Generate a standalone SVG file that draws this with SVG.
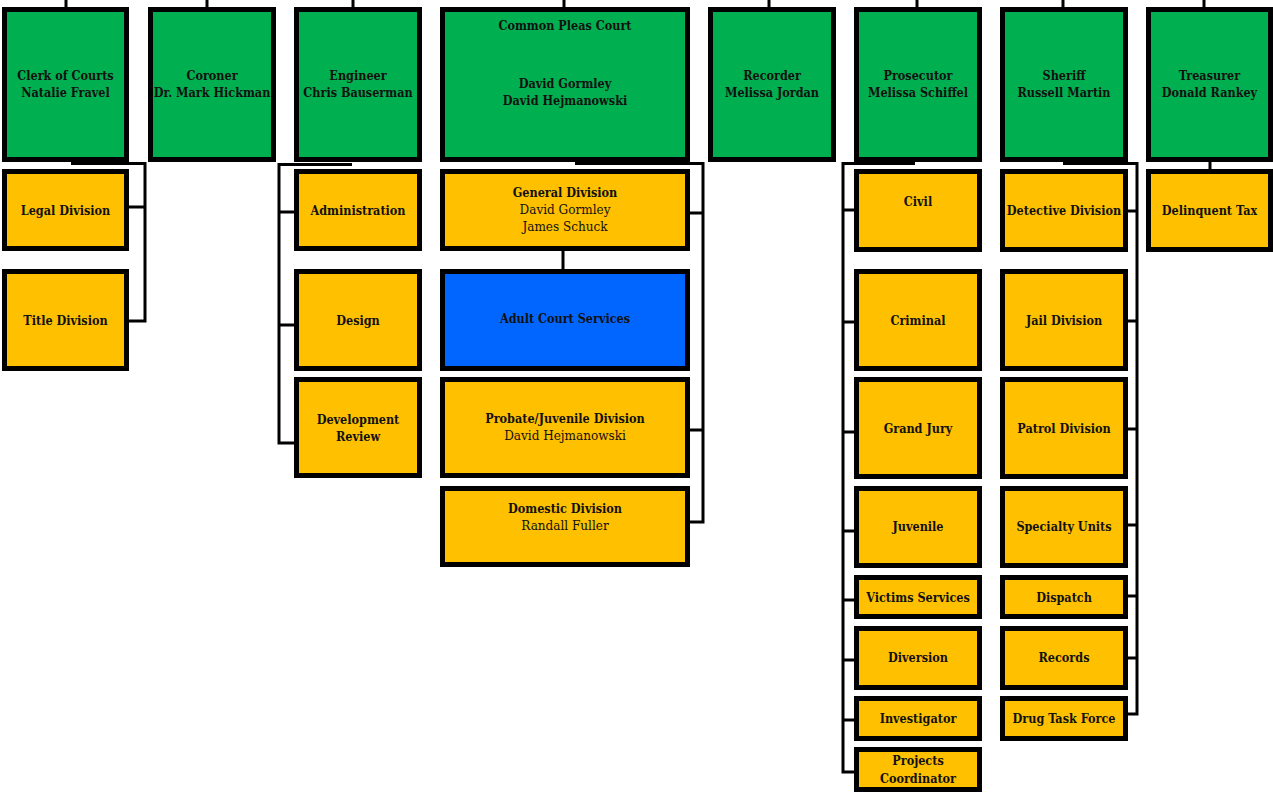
<svg xmlns="http://www.w3.org/2000/svg" width="1273" height="793" viewBox="0 0 1273 793">
<style>
.g{fill:#00AF50;stroke:#000;stroke-width:5}
.y{fill:#FFC000;stroke:#000;stroke-width:5}
.b{fill:#0066FF;stroke:#000;stroke-width:5}
text{font-family:"DejaVu Serif Condensed","DejaVu Serif",serif;font-stretch:condensed;font-size:12.5px;fill:#111;text-anchor:middle}
.t{font-weight:bold}
.n{font-weight:normal;font-size:13.4px}
.c{fill:none;stroke:#000;stroke-width:3}
</style>
<rect width="1273" height="793" fill="#fff"/>
<g id="connectors" class="c">
<path d="M66,0V8M207,0V8M353,0V8M564,0V8M769,0V8M917,0V8M1063,0V8M1204,0V8"/>
<path d="M71,163.5H145V321H129M129,207H145"/>
<path d="M352,164.5H279V443H294M279,212H294M279,325H294"/>
<path d="M575,163.5H703V522H690M690,213H703M690,430H703M563,251V269"/>
<path d="M915,163.5H843V772H854M843,210H854M843,322H854M843,432H854M843,531H854M843,600H854M843,660H854M843,720H854"/>
<path d="M1063,163.5H1137V714H1128M1128,211H1137M1128,321H1137M1128,429H1137M1128,525H1137M1128,596H1137M1128,658H1137"/>
<path d="M1210,162V169"/>
</g>
<g id="clerk"><rect class="g" x="4.5" y="9.5" width="122" height="150"/><text class="t" x="65.5" y="80">Clerk of Courts</text><text class="t" x="65.5" y="97">Natalie Fravel</text></g>
<g id="coroner"><rect class="g" x="150.5" y="9.5" width="123" height="150"/><text class="t" x="212" y="80">Coroner</text><text class="t" x="212" y="97">Dr. Mark Hickman</text></g>
<g id="engineer"><rect class="g" x="296.5" y="9.5" width="123" height="150"/><text class="t" x="358" y="80">Engineer</text><text class="t" x="358" y="97">Chris Bauserman</text></g>
<g id="common-pleas"><rect class="g" x="442.5" y="9.5" width="245" height="150"/><text class="t" x="565" y="30">Common Pleas Court</text><text class="t" x="565" y="88">David Gormley</text><text class="t" x="565" y="105">David Hejmanowski</text></g>
<g id="recorder"><rect class="g" x="710.5" y="9.5" width="123" height="150"/><text class="t" x="772" y="80">Recorder</text><text class="t" x="772" y="97">Melissa Jordan</text></g>
<g id="prosecutor"><rect class="g" x="856.5" y="9.5" width="123" height="150"/><text class="t" x="918" y="80">Prosecutor</text><text class="t" x="918" y="97">Melissa Schiffel</text></g>
<g id="sheriff"><rect class="g" x="1002.5" y="9.5" width="123" height="150"/><text class="t" x="1064" y="80">Sheriff</text><text class="t" x="1064" y="97">Russell Martin</text></g>
<g id="treasurer"><rect class="g" x="1148.5" y="9.5" width="122" height="150"/><text class="t" x="1209.5" y="80">Treasurer</text><text class="t" x="1209.5" y="97">Donald Rankey</text></g>

<g id="legal"><rect class="y" x="4.5" y="171.5" width="122" height="77"/><text class="t" x="65.5" y="215">Legal Division</text></g>
<g id="title"><rect class="y" x="4.5" y="271.5" width="122" height="97"/><text class="t" x="65.5" y="325">Title Division</text></g>

<g id="administration"><rect class="y" x="296.5" y="171.5" width="123" height="77"/><text class="t" x="358" y="215">Administration</text></g>
<g id="design"><rect class="y" x="296.5" y="271.5" width="123" height="97"/><text class="t" x="358" y="325">Design</text></g>
<g id="development-review"><rect class="y" x="296.5" y="379.5" width="123" height="96"/><text class="t" x="358" y="424">Development</text><text class="t" x="358" y="441">Review</text></g>

<g id="general"><rect class="y" x="442.5" y="171.5" width="245" height="77"/><text class="t" x="565" y="197">General Division</text><text class="n" x="565" y="214">David Gormley</text><text class="n" x="565" y="231">James Schuck</text></g>
<g id="adult-court"><rect class="b" x="442.5" y="271.5" width="245" height="97"/><text class="t" x="565" y="323">Adult Court Services</text></g>
<g id="probate"><rect class="y" x="442.5" y="379.5" width="245" height="96"/><text class="t" x="565" y="423">Probate/Juvenile Division</text><text class="n" x="565" y="440">David Hejmanowski</text></g>
<g id="domestic"><rect class="y" x="442.5" y="488.5" width="245" height="76"/><text class="t" x="565" y="513">Domestic Division</text><text class="n" x="565" y="530">Randall Fuller</text></g>

<g id="civil"><rect class="y" x="856.5" y="171.5" width="123" height="78"/><text class="t" x="918" y="206">Civil</text></g>
<g id="criminal"><rect class="y" x="856.5" y="271.5" width="123" height="97"/><text class="t" x="918" y="325">Criminal</text></g>
<g id="grand-jury"><rect class="y" x="856.5" y="379.5" width="123" height="97"/><text class="t" x="918" y="433">Grand Jury</text></g>
<g id="juvenile"><rect class="y" x="856.5" y="488.5" width="123" height="77"/><text class="t" x="918" y="531">Juvenile</text></g>
<g id="victims"><rect class="y" x="856.5" y="577.5" width="123" height="39"/><text class="t" x="918" y="602">Victims Services</text></g>
<g id="diversion"><rect class="y" x="856.5" y="628.5" width="123" height="59"/><text class="t" x="918" y="662">Diversion</text></g>
<g id="investigator"><rect class="y" x="856.5" y="698.5" width="123" height="40"/><text class="t" x="918" y="723">Investigator</text></g>
<g id="projects"><rect class="y" x="856.5" y="749.5" width="123" height="40"/><text class="t" x="918" y="765">Projects</text><text class="t" x="918" y="783">Coordinator</text></g>

<g id="detective"><rect class="y" x="1002.5" y="171.5" width="123" height="78"/><text class="t" x="1064" y="215">Detective Division</text></g>
<g id="jail"><rect class="y" x="1002.5" y="271.5" width="123" height="97"/><text class="t" x="1064" y="325">Jail Division</text></g>
<g id="patrol"><rect class="y" x="1002.5" y="379.5" width="123" height="97"/><text class="t" x="1064" y="433">Patrol Division</text></g>
<g id="specialty"><rect class="y" x="1002.5" y="488.5" width="123" height="77"/><text class="t" x="1064" y="531">Specialty Units</text></g>
<g id="dispatch"><rect class="y" x="1002.5" y="577.5" width="123" height="39"/><text class="t" x="1064" y="602">Dispatch</text></g>
<g id="records"><rect class="y" x="1002.5" y="628.5" width="123" height="59"/><text class="t" x="1064" y="662">Records</text></g>
<g id="drug-task-force"><rect class="y" x="1002.5" y="698.5" width="123" height="40"/><text class="t" x="1064" y="723">Drug Task Force</text></g>

<g id="delinquent-tax"><rect class="y" x="1148.5" y="171.5" width="122" height="78"/><text class="t" x="1209.5" y="215">Delinquent Tax</text></g>
</svg>
